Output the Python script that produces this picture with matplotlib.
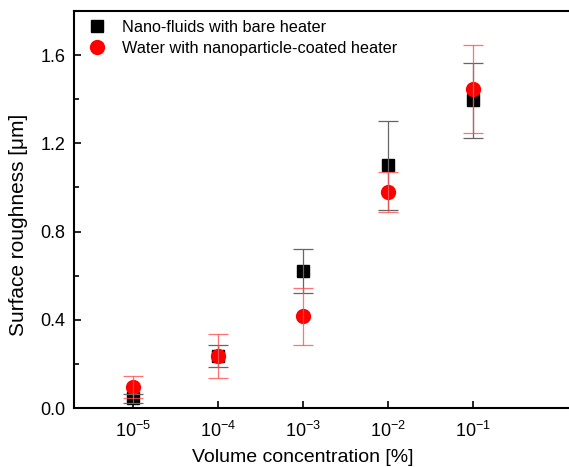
import numpy as np
import matplotlib
matplotlib.use("Agg")
import matplotlib.pyplot as plt
from matplotlib.ticker import FixedLocator, FixedFormatter, MultipleLocator, NullLocator

plt.rcParams['font.family'] = ['Liberation Sans', 'DejaVu Sans']
plt.rcParams['mathtext.default'] = 'regular'

# volume concentration [%]
conc = [1e-5, 1e-4, 1e-3, 1e-2, 1e-1]
conc_labels = ['10$^{-5}$', '10$^{-4}$', '10$^{-3}$', '10$^{-2}$', '10$^{-1}$']

# surface roughness [um] and error bars
bare_mean = [0.045, 0.235, 0.62, 1.10, 1.395]
bare_err = [0.02, 0.05, 0.10, 0.20, 0.17]
coated_mean = [0.095, 0.235, 0.415, 0.98, 1.445]
coated_err = [0.05, 0.10, 0.13, 0.09, 0.20]

fig = plt.figure(figsize=(5.69, 4.67), dpi=100)
ax = fig.add_axes([0.130, 0.1263, 0.895, 0.850])

ax.plot(conc, bare_mean, 's', color='black', markersize=9, label='Nano-fluids with bare heater', zorder=2)
ax.plot(conc, coated_mean, 'o', color='red', markersize=11, markeredgewidth=0,
        label='Water with nanoparticle-coated heater', zorder=3)
ax.errorbar(conc, bare_mean, yerr=bare_err, fmt='none', ecolor='#666666', elinewidth=0.9,
            capsize=7, capthick=0.9, zorder=4)
ax.errorbar(conc, coated_mean, yerr=coated_err, fmt='none', ecolor='#ff5050', elinewidth=0.9,
            capsize=7, capthick=0.9, alpha=0.8, zorder=4)

ax.set_xscale('log')
ax.set_xlim(10 ** -5.694, 10 ** 0.3)
ax.set_ylim(0, 1.8)

ax.xaxis.set_major_locator(FixedLocator(conc))
ax.xaxis.set_major_formatter(FixedFormatter(conc_labels))
ax.xaxis.set_minor_locator(NullLocator())
ax.yaxis.set_major_locator(FixedLocator([0.0, 0.4, 0.8, 1.2, 1.6]))
ax.yaxis.set_minor_locator(MultipleLocator(0.2))
ax.yaxis.set_major_formatter(matplotlib.ticker.FormatStrFormatter('%.1f'))

ax.tick_params(which='both', direction='in', labelsize=13, width=1.2)
ax.tick_params(which='major', length=5)
ax.tick_params(which='minor', length=3.5)
ax.tick_params(axis='x', pad=9)
ax.tick_params(axis='y', pad=6)
for sp in ax.spines.values():
    sp.set_linewidth(1.5)
ax.spines['right'].set_visible(False)

ax.set_xlabel('Volume concentration [%]', fontsize=14)
ax.set_ylabel('Surface roughness [\u03bcm]', fontsize=15)
ax.xaxis.set_label_coords(0.449, -0.102)
ax.yaxis.set_label_coords(-0.09, 0.461)

ax.legend(loc='upper left', bbox_to_anchor=(0.012, 1.0), frameon=False, fontsize=11.7,
          handletextpad=1.0, borderaxespad=0.05, borderpad=0.5, labelspacing=0.35,
          handlelength=1.0, numpoints=1)

fig.savefig('out.png', dpi=100)
